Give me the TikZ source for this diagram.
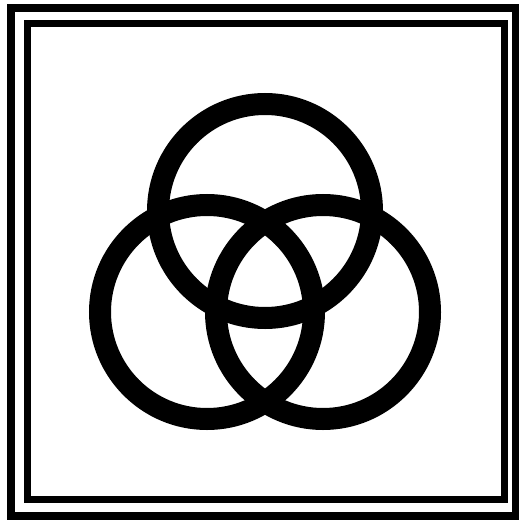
\documentclass[tikz,border=0pt]{standalone}
\begin{document}
\begin{tikzpicture}[x=1bp,y=-1bp,
  ring/.style={draw=black,line width=22bp},
  outerframe/.style={draw=black,line width=8bp},
  innerframe/.style={draw=black,line width=7bp}]
\useasboundingbox (0,0) rectangle (519,521);
\fill[white] (0,0) rectangle (519,521);
\draw[outerframe] (11,8) rectangle (515.5,516);
\draw[innerframe] (27.5,23.5) rectangle (504,499);
\draw[ring] (265,211) circle[radius=107];
\draw[ring] (207,312) circle[radius=107];
\draw[ring] (323,312) circle[radius=107];
\end{tikzpicture}
\end{document}
